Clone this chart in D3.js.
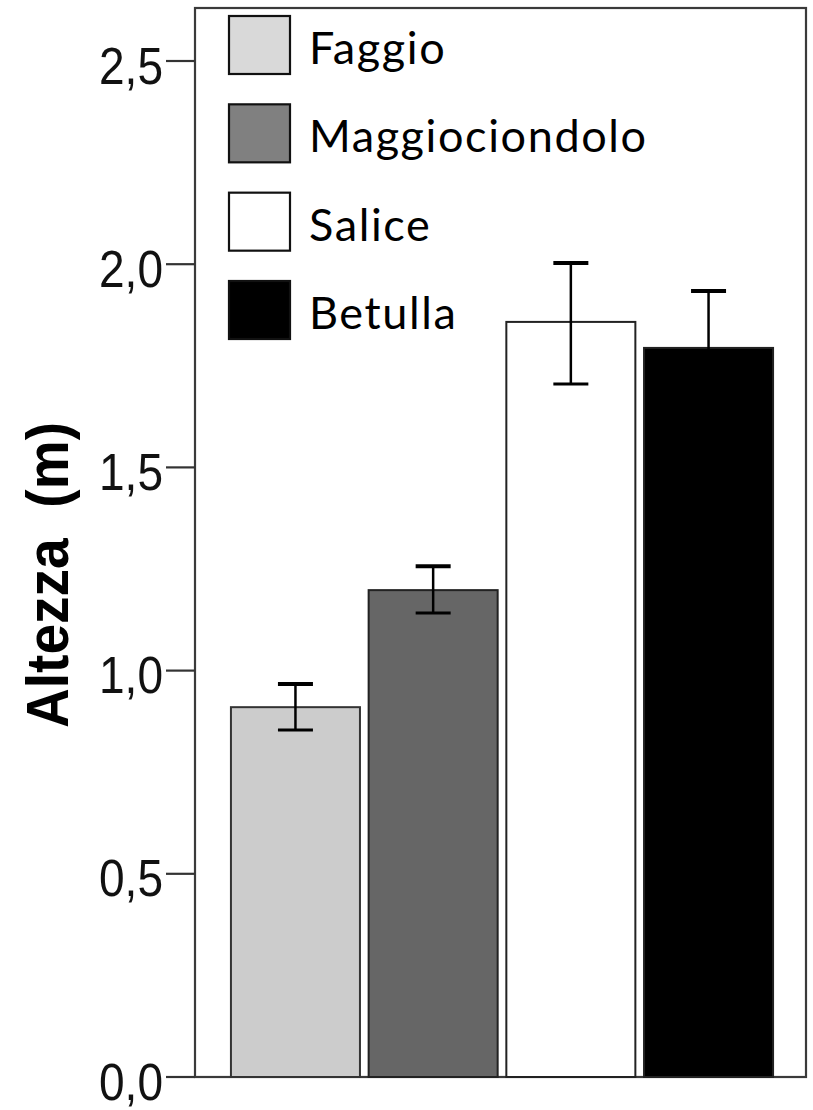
<!DOCTYPE html>
<html>
<head>
<meta charset="utf-8">
<script src="https://cdn.jsdelivr.net/npm/d3@7"></script>
<style>
  html, body { margin: 0; padding: 0; background: #fff; }
  svg { display: block; }
</style>
</head>
<body>
<svg id="chart" width="813" height="1110"></svg>
<script>
// ---- data ----
const categories = ["Faggio", "Maggiociondolo", "Salice", "Betulla"];
const means      = [0.910, 1.198, 1.858, 1.794];
const errLow     = [0.854, 1.142, 1.705, 1.654];
const errHigh    = [0.967, 1.257, 2.003, 1.934];
const barColors    = ["#cccccc", "#666666", "#ffffff", "#000000"];
const legendColors = ["#d9d9d9", "#808080", "#ffffff", "#000000"];
const yTicks     = [0, 0.5, 1.0, 1.5, 2.0, 2.5];
const yLabel     = "Altezza  (m)";

// ---- layout ----
const svg = d3.select("#chart");
const frame = { left: 195, top: 8, right: 806, bottom: 1077 };

const y = d3.scaleLinear().domain([0, 2.5]).range([1077, 61]);
const x = d3.scaleBand().domain(categories).range([226.6, 777.4])
  .paddingInner(0.063).paddingOuter(0.0315);

// frame
svg.append("rect")
  .attr("x", frame.left).attr("y", frame.top)
  .attr("width", frame.right - frame.left).attr("height", frame.bottom - frame.top)
  .attr("fill", "none").attr("stroke", "#3a3a3a").attr("stroke-width", 2.2);

// y axis ticks
const fmt = d => d3.format(".1f")(d).replace(".", ",");
const axis = svg.append("g");
axis.selectAll("line").data(yTicks).enter().append("line")
  .attr("x1", 166).attr("x2", frame.left)
  .attr("y1", d => y(d)).attr("y2", d => y(d))
  .attr("stroke", "#333").attr("stroke-width", 2.2);
axis.selectAll("text").data(yTicks).enter().append("text")
  .attr("x", 163).attr("y", d => y(d) + 5)
  .attr("text-anchor", "end").attr("dominant-baseline", "central")
  .attr("font-family", "'Liberation Sans', Arial, sans-serif")
  .attr("font-size", 51)
  .attr("textLength", 64).attr("lengthAdjust", "spacingAndGlyphs")
  .attr("fill", "#111")
  .text(fmt);

// y label
svg.append("text")
  .attr("transform", "translate(68,575) rotate(-90)")
  .attr("text-anchor", "middle")
  .attr("font-family", "'Liberation Sans', Arial, sans-serif")
  .attr("font-weight", "bold")
  .attr("font-size", 60)
  .attr("xml:space", "preserve")
  .style("white-space", "pre")
  .attr("textLength", 306).attr("lengthAdjust", "spacingAndGlyphs")
  .attr("fill", "#000")
  .text(yLabel);

// bars
const data = categories.map((c, i) => ({ c, m: means[i], lo: errLow[i], hi: errHigh[i], col: barColors[i] }));
svg.append("g").selectAll("rect").data(data).enter().append("rect")
  .attr("x", d => x(d.c)).attr("width", x.bandwidth())
  .attr("y", d => y(d.m)).attr("height", d => y(0) - y(d.m))
  .attr("fill", d => d.col)
  .attr("stroke", d => d.c === "Faggio" ? "#333" : "#222").attr("stroke-width", 2);

// error bars
const eb = svg.append("g").attr("stroke", "#000").attr("stroke-width", 2.5);
data.forEach(d => {
  const cx = x(d.c) + x.bandwidth() / 2;
  const g = eb.append("g");
  g.append("line").attr("x1", cx).attr("x2", cx).attr("y1", y(d.hi)).attr("y2", y(d.lo));
  g.append("line").attr("x1", cx - 17.5).attr("x2", cx + 17.5).attr("y1", y(d.hi)).attr("y2", y(d.hi)).attr("stroke-width", 4);
  g.append("line").attr("x1", cx - 17.5).attr("x2", cx + 17.5).attr("y1", y(d.lo)).attr("y2", y(d.lo)).attr("stroke-width", 3);
});

// legend
const legendY = d3.scalePoint().domain(categories).range([16, 281]);
const lg = svg.append("g").selectAll("g").data(categories).enter().append("g")
  .attr("transform", d => `translate(229,${legendY(d)})`);
lg.append("rect").attr("width", 61).attr("height", 58)
  .attr("fill", (d, i) => legendColors[i])
  .attr("stroke", "#111").attr("stroke-width", 2.2);
lg.append("text").attr("x", 80).attr("y", 48)
  .attr("font-family", "Lato, 'Open Sans', sans-serif")
  .attr("font-size", 45)
  .attr("letter-spacing", 1.6)
  .attr("fill", "#000")
  .text(d => d);
</script>
</body>
</html>
